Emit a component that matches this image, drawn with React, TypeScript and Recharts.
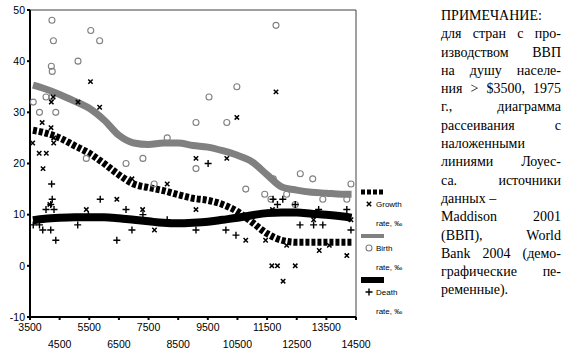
import React from 'react'
import { ComposedChart, Scatter, Line, XAxis, YAxis, ReferenceArea } from 'recharts'

// GDP per capita (x) vs rate, per mille (y)
const growthPoints = [
  { x: 3590, y: 24 }, { x: 3810, y: 22 }, { x: 4050, y: 22 }, { x: 3910, y: 28 }, { x: 3940, y: 19 },
  { x: 4210, y: 27 }, { x: 4220, y: 32 }, { x: 4280, y: 33 }, { x: 4300, y: 25 }, { x: 4300, y: 24 },
  { x: 4170, y: 12 }, { x: 5120, y: 32 }, { x: 5540, y: 36 }, { x: 5850, y: 31 }, { x: 5400, y: 11 },
  { x: 6430, y: 13 }, { x: 6940, y: 17 }, { x: 7300, y: 11 }, { x: 7700, y: 7 }, { x: 8130, y: 16 },
  { x: 9100, y: 21 }, { x: 9100, y: 11 }, { x: 10140, y: 21 }, { x: 10480, y: 29 }, { x: 10780, y: 5 },
  { x: 11450, y: 5 }, { x: 11660, y: 0 }, { x: 11850, y: 0 }, { x: 11680, y: 11 }, { x: 11800, y: 34 },
  { x: 12040, y: -3 }, { x: 12160, y: 4 }, { x: 12450, y: 0 }, { x: 13070, y: 9 }, { x: 13260, y: 3 },
  { x: 13600, y: 4 }, { x: 14190, y: 2 }, { x: 14330, y: 9 },
]

const birthPoints = [
  { x: 3610, y: 32 }, { x: 3820, y: 30 }, { x: 4040, y: 33 }, { x: 4220, y: 39 }, { x: 4250, y: 38 },
  { x: 4240, y: 48 }, { x: 4290, y: 44 }, { x: 4240, y: 33 }, { x: 4370, y: 30 }, { x: 5120, y: 40 },
  { x: 5550, y: 46 }, { x: 5850, y: 44 }, { x: 5400, y: 21 }, { x: 6740, y: 20 }, { x: 7310, y: 21 },
  { x: 7690, y: 16 }, { x: 8130, y: 25 }, { x: 9100, y: 28 }, { x: 9100, y: 19 }, { x: 9540, y: 33 },
  { x: 10140, y: 28 }, { x: 10480, y: 35 }, { x: 10780, y: 15 }, { x: 11800, y: 47 }, { x: 11420, y: 14 },
  { x: 11630, y: 13 }, { x: 11710, y: 17 }, { x: 12160, y: 14 }, { x: 12450, y: 12 }, { x: 12620, y: 18 },
  { x: 13040, y: 17 }, { x: 13380, y: 13 }, { x: 14190, y: 13 }, { x: 14330, y: 16 },
]

const deathPoints = [
  { x: 3610, y: 8 }, { x: 3820, y: 8 }, { x: 3930, y: 7 }, { x: 4200, y: 7 }, { x: 4370, y: 5 },
  { x: 4040, y: 11 }, { x: 4230, y: 16 }, { x: 4250, y: 13 }, { x: 4200, y: 12 }, { x: 4310, y: 11 },
  { x: 5110, y: 8 }, { x: 5470, y: 10 }, { x: 5870, y: 13 }, { x: 6430, y: 5 }, { x: 6740, y: 11 },
  { x: 6940, y: 7 }, { x: 7310, y: 10 }, { x: 8130, y: 9 }, { x: 9100, y: 7 }, { x: 9510, y: 20 },
  { x: 10110, y: 7 }, { x: 10450, y: 6 }, { x: 11700, y: 13 }, { x: 11850, y: 12 }, { x: 12030, y: 13 },
  { x: 12450, y: 12 }, { x: 12610, y: 8 }, { x: 13070, y: 8 }, { x: 13380, y: 8 }, { x: 13240, y: 11 },
  { x: 14190, y: 11 }, { x: 14330, y: 7 },
]

// lowess curves
const growthLowess = [
  { x: 3600, y: 26.5 }, { x: 4000, y: 26 }, { x: 4500, y: 25 }, { x: 5000, y: 23.5 }, { x: 5500, y: 22 },
  { x: 6000, y: 20 }, { x: 6500, y: 17.8 }, { x: 7000, y: 16 }, { x: 7500, y: 15.3 }, { x: 8000, y: 14.7 },
  { x: 8500, y: 13.9 }, { x: 9000, y: 13.2 }, { x: 9500, y: 12.8 }, { x: 10000, y: 12 }, { x: 10500, y: 10.6 },
  { x: 11000, y: 8.5 }, { x: 11500, y: 6.3 }, { x: 12000, y: 5 }, { x: 12500, y: 4.6 }, { x: 13000, y: 4.6 },
  { x: 13500, y: 4.6 }, { x: 14000, y: 4.6 }, { x: 14350, y: 4.6 },
]

const birthLowess = [
  { x: 3600, y: 35.3 }, { x: 4000, y: 34.6 }, { x: 4500, y: 33.5 }, { x: 5000, y: 32.2 }, { x: 5500, y: 30.8 },
  { x: 6000, y: 28.5 }, { x: 6500, y: 25.5 }, { x: 7000, y: 24 }, { x: 7500, y: 23.7 }, { x: 8000, y: 24 },
  { x: 8500, y: 24 }, { x: 9000, y: 23.5 }, { x: 9500, y: 23.2 }, { x: 10000, y: 22.5 }, { x: 10500, y: 21.6 },
  { x: 11000, y: 20.3 }, { x: 11500, y: 17.8 }, { x: 12000, y: 15.4 }, { x: 12500, y: 14.8 }, { x: 13000, y: 14.4 },
  { x: 13500, y: 14.2 }, { x: 14000, y: 14 }, { x: 14350, y: 14 },
]

const deathLowess = [
  { x: 3600, y: 8.9 }, { x: 4000, y: 9.2 }, { x: 4500, y: 9.4 }, { x: 5000, y: 9.5 }, { x: 5500, y: 9.5 },
  { x: 6000, y: 9.5 }, { x: 6500, y: 9.3 }, { x: 7000, y: 9 }, { x: 7500, y: 8.7 }, { x: 8000, y: 8.4 },
  { x: 8500, y: 8.3 }, { x: 9000, y: 8.4 }, { x: 9500, y: 8.6 }, { x: 10000, y: 9 }, { x: 10500, y: 9.4 },
  { x: 11000, y: 9.9 }, { x: 11500, y: 10.3 }, { x: 12000, y: 10.4 }, { x: 12500, y: 10.4 }, { x: 13000, y: 10.2 },
  { x: 13500, y: 10 }, { x: 14000, y: 9.7 }, { x: 14350, y: 9.4 },
]

const xTicks = [3500, 4500, 5500, 6500, 7500, 8500, 9500, 10500, 11500, 12500, 13500, 14500]
const yTicks = [-10, 0, 10, 20, 30, 40, 50]

const legendItems = [
  { name: 'Growth', color: '#000', width: 5, dash: '4 2', marker: 'x' },
  { name: 'Birth', color: '#808080', width: 4, dash: undefined, marker: 'o' },
  { name: 'Death', color: '#000', width: 6, dash: undefined, marker: '+' },
]
const legendUnit = 'rate, ‰'

// [text, justified]
const noteLines: [string, boolean][] = [
  ['ПРИМЕЧАНИЕ:', false],
  ['для стран с про-', true],
  ['изводством ВВП', true],
  ['на душу населе-', true],
  ['ния > $3500, 1975', true],
  ['г., диаграмма', true],
  ['рассеивания с', true],
  ['наложенными', false],
  ['линиями Лоуес-', true],
  ['са. источники', true],
  ['данных –', false],
  ['Maddison 2001', true],
  ['(ВВП), World', true],
  ['Bank 2004 (демо-', true],
  ['графические пе-', true],
  ['ременные).', false],
]

const drawMarker = (m: string, cx: number, cy: number) => {
  if (m === 'x') {
    const s = 2.2
    return <path d={`M${cx - s},${cy - s}L${cx + s},${cy + s}M${cx - s},${cy + s}L${cx + s},${cy - s}`} stroke="#000" strokeWidth={1.5} fill="none" />
  }
  if (m === 'o') {
    return <circle cx={cx} cy={cy} r={3} fill="none" stroke="#808080" strokeWidth={1.1} />
  }
  const s = 3.5
  return <path d={`M${cx - s},${cy}L${cx + s},${cy}M${cx},${cy - s}L${cx},${cy + s}`} stroke="#000" strokeWidth={1.4} fill="none" />
}

// labels alternate between two rows
const XTick = (props: any) => {
  const { x, y, payload } = props
  const row = Math.round((payload.value - xTicks[0]) / 1000) % 2
  return (
    <text x={x} y={y + (row ? 18.5 : 2)} dy="0.71em" textAnchor="middle" fontSize={10.5} fill="#000">
      {payload.value}
    </text>
  )
}

export default function App() {
  return (
    <div style={{ position: 'absolute', left: 0, top: 0, width: 565, height: 353, background: '#fff', fontFamily: 'Liberation Sans, Arial, sans-serif' }}>
      <ComposedChart width={565} height={353} margin={{ top: 10, right: 209, bottom: 0, left: 0 }}>
        <XAxis
          type="number"
          dataKey="x"
          domain={[3500, 14500]}
          ticks={xTicks}
          interval={0}
          height={36}
          tick={<XTick />}
          tickSize={3}
          axisLine={{ stroke: '#000', strokeWidth: 2 }}
          tickLine={{ stroke: '#000', strokeWidth: 2 }}
        />
        <YAxis
          type="number"
          domain={[-10, 50]}
          ticks={yTicks}
          interval={0}
          width={30}
          tickSize={3}
          tick={{ fill: '#000', fontSize: 10.5 }}
          axisLine={{ stroke: '#000', strokeWidth: 2 }}
          tickLine={{ stroke: '#000', strokeWidth: 2 }}
        />
        <ReferenceArea x1={3500} x2={14500} y1={-10} y2={50} fill="none" stroke="#404040" strokeWidth={1} />
        <Scatter data={birthPoints} dataKey="y" isAnimationActive={false} shape={(p: any) => drawMarker('o', p.cx, p.cy)} />
        <Scatter data={growthPoints} dataKey="y" isAnimationActive={false} shape={(p: any) => drawMarker('x', p.cx, p.cy)} />
        <Scatter data={deathPoints} dataKey="y" isAnimationActive={false} shape={(p: any) => drawMarker('+', p.cx, p.cy)} />
        <Line data={birthLowess} dataKey="y" type="monotone" stroke="#808080" strokeWidth={7} dot={false} activeDot={false} isAnimationActive={false} />
        <Line data={deathLowess} dataKey="y" type="monotone" stroke="#000" strokeWidth={8} dot={false} activeDot={false} isAnimationActive={false} />
        <Line data={growthLowess} dataKey="y" type="monotone" stroke="#000" strokeWidth={7} strokeDasharray="4 2" dot={false} activeDot={false} isAnimationActive={false} />
      </ComposedChart>

      <svg width={70} height={140} style={{ position: 'absolute', left: 358, top: 186 }}>
        {legendItems.map((it, i) => {
          const top = i * 44 + 6
          return (
            <g key={it.name} fontFamily="Liberation Sans, Arial, sans-serif" fontSize={8} fill="#000">
              <line x1={3} x2={26} y1={top} y2={top} stroke={it.color} strokeWidth={it.width} strokeDasharray={it.dash} />
              {drawMarker(it.marker, 11, top + 12)}
              <text x={18} y={top + 15}>{it.name}</text>
              <text x={18} y={top + 34}>{legendUnit}</text>
            </g>
          )
        })}
      </svg>

      <div style={{ position: 'absolute', left: 441, top: 7, width: 120, fontFamily: '"Liberation Serif", "Times New Roman", serif', fontSize: 14, lineHeight: '18.3px', color: '#000' }}>
        {noteLines.map(([t, j], i) => (
          <div key={i} style={{ textAlign: 'justify', textAlignLast: j ? 'justify' : 'left', whiteSpace: 'nowrap' }}>{t}</div>
        ))}
      </div>
    </div>
  )
}
